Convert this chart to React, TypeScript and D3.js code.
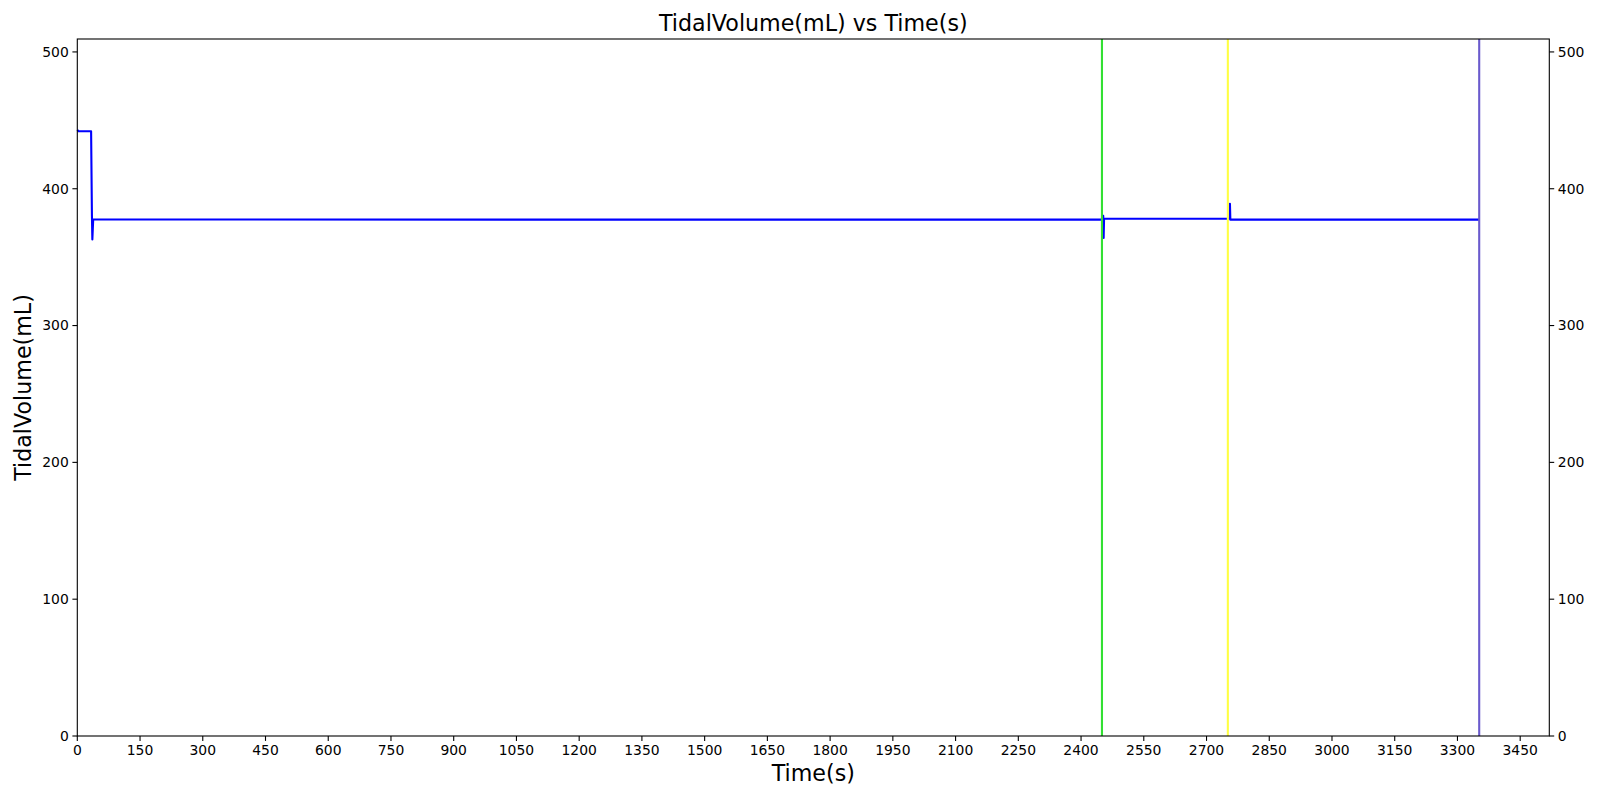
import React from "react";
import * as d3 from "d3";

const times = [0, 3, 33, 35, 36, 38, 2452, 2453, 2454, 2455, 2755, 2756, 2757, 3352];
const volumes = [443, 442, 442, 380, 363, 377.5, 377.4, 380.3, 364, 378.1, 378.1, 389, 377.4, 377.4];
const xTicks = d3.range(0, 3451, 150);
const yTicks = [0, 100, 200, 300, 400, 500];
const markerTimes = [2450, 2751, 3352];
const markerColors = ["#33e033", "#ffff44", "#6a5acd"];

const W = 1600, H = 800;
const L = 77.3, R = 1549.3, T = 39, B = 736;

export default function App() {
  const xMax = d3.max(times)! * 1.05;
  const yMax = d3.max(volumes)! * 1.15;
  const x = d3.scaleLinear().domain([0, xMax]).range([L, R]);
  const y = d3.scaleLinear().domain([0, yMax]).range([B, T]);
  const pts = times.map((t, i) => [t, volumes[i]] as [number, number]);
  const line = d3.line<[number, number]>().x(d => x(d[0])).y(d => y(d[1]));
  const font = "DejaVu Sans, sans-serif";
  return (
    <svg width={W} height={H} style={{ position: "absolute", left: 0, top: 0, background: "#fff" }} fontFamily={font}>
      <rect x={0} y={0} width={W} height={H} fill="#fff" />
      <path d={line(pts)!} fill="none" stroke="#0000ff" strokeWidth={2.1} strokeLinejoin="round" />
      {markerTimes.map((t, i) => (
        <line key={i} x1={x(t)} x2={x(t)} y1={T} y2={B} stroke={markerColors[i]} strokeWidth={2.1} />
      ))}
      <rect x={L} y={T} width={R - L} height={B - T} fill="none" stroke="#000" strokeWidth={1.1} />
      {xTicks.map(t => (
        <g key={t}>
          <line x1={x(t)} x2={x(t)} y1={B} y2={B + 4.9} stroke="#000" strokeWidth={1.1} />
          <text x={x(t)} y={B + 18.5} textAnchor="middle" fontSize={13.9}>{t}</text>
        </g>
      ))}
      {yTicks.map(v => (
        <g key={v}>
          <line x1={L - 4.9} x2={L} y1={y(v)} y2={y(v)} stroke="#000" strokeWidth={1.1} />
          <text x={L - 8.5} y={y(v)} dy="0.35em" textAnchor="end" fontSize={13.9}>{v}</text>
          <line x1={R} x2={R + 4.9} y1={y(v)} y2={y(v)} stroke="#000" strokeWidth={1.1} />
          <text x={R + 8.5} y={y(v)} dy="0.35em" textAnchor="start" fontSize={13.9}>{v}</text>
        </g>
      ))}
      <text x={(L + R) / 2} y={31} textAnchor="middle" fontSize={22.2}>TidalVolume(mL) vs Time(s)</text>
      <text x={(L + R) / 2} y={781} textAnchor="middle" fontSize={22.2}>Time(s)</text>
      <text transform={`translate(30.5, ${(T + B) / 2}) rotate(-90)`} textAnchor="middle" fontSize={22.2}>TidalVolume(mL)</text>
    </svg>
  );
}
